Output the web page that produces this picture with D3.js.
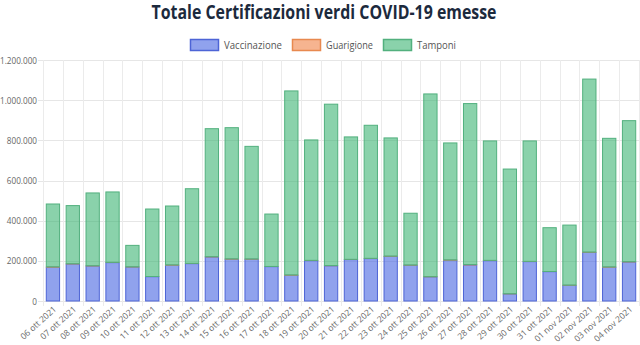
<!DOCTYPE html>
<html><head><meta charset="utf-8">
<script src="https://cdn.jsdelivr.net/npm/d3@7"></script>
<style>body{margin:0;background:#fff}svg{display:block}</style>
</head><body>
<svg id="c" width="640" height="345"></svg>
<script>
const categories = ["06 ott 2021","07 ott 2021","08 ott 2021","09 ott 2021","10 ott 2021","11 ott 2021","12 ott 2021","13 ott 2021","14 ott 2021","15 ott 2021","16 ott 2021","17 ott 2021","18 ott 2021","19 ott 2021","20 ott 2021","21 ott 2021","22 ott 2021","23 ott 2021","24 ott 2021","25 ott 2021","26 ott 2021","27 ott 2021","28 ott 2021","29 ott 2021","30 ott 2021","31 ott 2021","01 nov 2021","02 nov 2021","03 nov 2021","04 nov 2021"];
const vaccinazione = [168000,184000,174000,191000,169000,121000,178000,186000,219000,208000,208000,171000,128000,201000,175000,206000,211000,222000,178000,120000,203000,179000,201000,35000,196000,146000,78000,242000,168000,194000];
const guarigione = [2000,1500,1500,1500,1000,1000,1500,1500,1500,1500,1000,1000,1500,1500,1500,1500,1500,1500,1000,1000,1500,2500,1500,1000,1500,1000,1000,1500,1500,1500];
const totals = [483000,475000,538000,543000,277000,458000,473000,559000,858000,863000,770000,433000,1046000,802000,980000,817000,875000,812000,437000,1031000,787000,983000,797000,657000,797000,365000,378000,1105000,810000,898000];
const tamponi = totals.map((t,i)=>t - vaccinazione[i] - guarigione[i]);
const yTicks = [0,200000,400000,600000,800000,1000000,1200000];
const seriesNames = ["Vaccinazione","Guarigione","Tamponi"];
const fills = ["rgba(70,100,225,0.6)","rgba(240,130,70,0.6)","rgba(60,180,115,0.6)"];
const strokes = ["#4d64d6","#e8894f","#52b07e"];

const svg = d3.select("#c");
const L=43, R=639, T=60, B=301;
const x = d3.scaleBand().domain(categories).range([L,R]).paddingInner(0.28).paddingOuter(0.14);
const xg = d3.scaleBand().domain(categories).range([L,R]);
const y = d3.scaleLinear().domain([0,1200000]).range([B,T]);
const fmt = v => d3.format(",")(v).replace(/,/g,".");

// grid
const g = svg.append("g");
g.selectAll("line.h").data(yTicks).join("line")
  .attr("x1",L-5).attr("x2",R).attr("y1",d=>Math.round(y(d))+0.5).attr("y2",d=>Math.round(y(d))+0.5)
  .attr("stroke","#e6e6e6").attr("stroke-width",1);
g.selectAll("line.v").data(categories.concat([null])).join("line")
  .attr("x1",(d,i)=>Math.round(L+i*xg.bandwidth())+0.5).attr("x2",(d,i)=>Math.round(L+i*xg.bandwidth())+0.5)
  .attr("y1",T).attr("y2",B+5)
  .attr("stroke","#ebebeb").attr("stroke-width",1);

// y labels
const yl = svg.append("g").selectAll("text").data(yTicks).join("text")
  .attr("x",37).attr("y",d=>y(d)+3.5).attr("text-anchor","end")
  .attr("font-family","Open Sans, sans-serif").attr("font-size",9.5).attr("fill","#666")
  .text(fmt);
yl.each(function(){ const w=this.getComputedTextLength(); d3.select(this).attr("textLength", w*0.86).attr("lengthAdjust","spacingAndGlyphs"); });

// stacked bars
const stackData = categories.map((c,i)=>({c, Vaccinazione:vaccinazione[i], Guarigione:guarigione[i], Tamponi:tamponi[i]}));
const stack = d3.stack().keys(seriesNames)(stackData);
stack.forEach((s,k)=>{
  svg.append("g").selectAll("rect").data(s).join("rect")
    .attr("x",d=>x(d.data.c)+0.5).attr("width",x.bandwidth()-1)
    .attr("y",d=>y(d[1])).attr("height",d=>Math.max(0,y(d[0])-y(d[1])))
    .attr("fill",fills[k]).attr("stroke",strokes[k]).attr("stroke-width",k===1?0.6:1);
});

// x labels
svg.append("g").selectAll("text").data(categories).join("text")
  .attr("transform",d=>`translate(${x(d)+x.bandwidth()/2+4},${B+9}) rotate(-42)`)
  .attr("text-anchor","end")
  .attr("font-family","Open Sans, sans-serif").attr("font-size",8.5).attr("fill","#666")
  .text(d=>d);

// title
svg.append("text").attr("x",324).attr("y",19).attr("text-anchor","middle")
  .attr("font-family","Open Sans, sans-serif").attr("font-weight","bold").attr("font-size",19)
  .attr("fill","#1c2a3d").attr("textLength",345).attr("lengthAdjust","spacingAndGlyphs")
  .text("Totale Certificazioni verdi COVID-19 emesse");

// legend
const legX = [190,292,383];
const legW = [58,47,39];
const lg = svg.append("g");
seriesNames.forEach((n,k)=>{
  lg.append("rect").attr("x",legX[k]+0.5).attr("y",39.5).attr("width",28).attr("height",11)
    .attr("fill",fills[k]).attr("stroke",strokes[k]).attr("stroke-width",1.5);
  lg.append("text").attr("x",legX[k]+34).attr("y",49)
    .attr("font-family","Open Sans, sans-serif").attr("font-size",11).attr("fill","#555")
    .attr("textLength",legW[k]).attr("lengthAdjust","spacingAndGlyphs").text(n);
});
</script>
</body></html>
